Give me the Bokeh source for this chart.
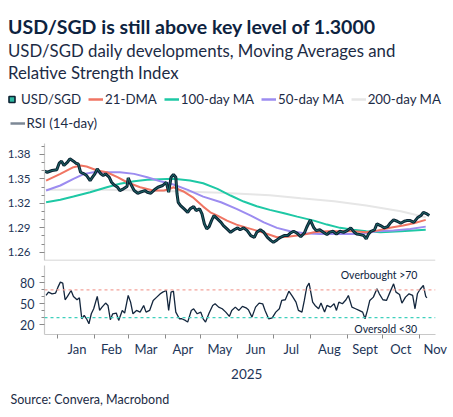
import pandas as pd
from bokeh.plotting import figure
from bokeh.layouts import column
from bokeh.models import Range1d, FixedTicker, Label, Legend, LegendItem, Span
from bokeh.embed import file_html
from bokeh.resources import INLINE

# ---------------- data ----------------
price_dates = [
    "2024-12-20", "2024-12-23", "2024-12-27", "2024-12-31",
    "2025-01-02", "2025-01-04", "2025-01-06", "2025-01-09", "2025-01-11", "2025-01-14", "2025-01-16",
    "2025-01-18", "2025-01-20", "2025-01-23", "2025-01-25", "2025-01-28", "2025-01-30",
    "2025-02-01", "2025-02-03", "2025-02-06", "2025-02-08", "2025-02-10", "2025-02-13", "2025-02-15",
    "2025-02-17", "2025-02-20", "2025-02-22", "2025-02-25", "2025-02-28",
    "2025-03-01", "2025-03-03", "2025-03-06", "2025-03-09", "2025-03-11", "2025-03-15", "2025-03-17",
    "2025-03-20", "2025-03-23", "2025-03-26", "2025-03-30",
    "2025-04-02", "2025-04-04", "2025-04-06", "2025-04-08", "2025-04-10", "2025-04-11", "2025-04-12",
    "2025-04-14", "2025-04-17", "2025-04-20", "2025-04-22", "2025-04-25", "2025-04-27", "2025-04-30",
    "2025-05-02", "2025-05-04", "2025-05-06", "2025-05-08", "2025-05-10", "2025-05-12", "2025-05-15",
    "2025-05-18", "2025-05-20", "2025-05-23", "2025-05-26", "2025-05-29",
    "2025-06-01", "2025-06-03", "2025-06-06", "2025-06-09", "2025-06-12", "2025-06-15", "2025-06-17",
    "2025-06-20", "2025-06-23", "2025-06-26", "2025-06-29",
    "2025-07-01", "2025-07-04", "2025-07-07", "2025-07-10", "2025-07-13", "2025-07-15", "2025-07-18",
    "2025-07-21", "2025-07-24", "2025-07-27", "2025-07-29",
    "2025-08-01", "2025-08-04", "2025-08-06", "2025-08-09", "2025-08-12", "2025-08-15", "2025-08-17",
    "2025-08-20", "2025-08-23", "2025-08-26", "2025-08-29",
    "2025-09-01", "2025-09-04", "2025-09-07", "2025-09-09", "2025-09-12", "2025-09-15", "2025-09-17",
    "2025-09-19", "2025-09-21", "2025-09-24", "2025-09-26", "2025-09-29",
    "2025-10-02", "2025-10-05", "2025-10-07", "2025-10-10", "2025-10-13", "2025-10-16", "2025-10-19",
    "2025-10-21", "2025-10-24", "2025-10-27", "2025-10-30",
    "2025-11-02", "2025-11-04", "2025-11-07", "2025-11-09",
]
usdsgd = [
    1.3600, 1.3582, 1.3603, 1.3612,
    1.3693, 1.3718, 1.3665, 1.3705, 1.3747, 1.3718, 1.3693,
    1.3685, 1.3582, 1.3562, 1.3542, 1.3480, 1.3521,
    1.3562, 1.3624, 1.3562, 1.3542, 1.3562, 1.3521, 1.3459,
    1.3427, 1.3398, 1.3357, 1.3378, 1.3406,
    1.3513, 1.3440, 1.3357, 1.3324, 1.3336, 1.3357, 1.3336,
    1.3324, 1.3366, 1.3398, 1.3419,
    1.3459, 1.3336, 1.3521, 1.3554, 1.3521, 1.3317, 1.3213,
    1.3173, 1.3132, 1.3090, 1.3132, 1.3160, 1.3111, 1.3132,
    1.3070, 1.2948, 1.2886, 1.2914, 1.2988, 1.3050, 1.3009,
    1.2967, 1.2927, 1.2886, 1.2844, 1.2875,
    1.2899, 1.2875, 1.2899, 1.2865, 1.2804, 1.2783, 1.2844,
    1.2875, 1.2844, 1.2783, 1.2742,
    1.2721, 1.2751, 1.2783, 1.2804, 1.2804, 1.2832, 1.2857,
    1.2832, 1.2790, 1.2835, 1.2906,
    1.2995, 1.2899, 1.2865, 1.2875, 1.2844, 1.2816, 1.2844,
    1.2857, 1.2824, 1.2857, 1.2844,
    1.2865, 1.2899, 1.2844, 1.2824, 1.2816, 1.2804, 1.2763,
    1.2824, 1.2857, 1.2875, 1.2948, 1.2927,
    1.2899, 1.2914, 1.2955, 1.2997, 1.2980, 1.2955, 1.2980,
    1.2988, 1.2988, 1.2967, 1.3022,
    1.3050, 1.3090, 1.3070, 1.3050,
]

dma21_dates = [
    "2024-12-22", "2025-01-03", "2025-01-14", "2025-01-20", "2025-01-25", "2025-02-03", "2025-02-11",
    "2025-02-20", "2025-02-28", "2025-03-11", "2025-03-22", "2025-03-31", "2025-04-05", "2025-04-08",
    "2025-04-16", "2025-04-25", "2025-05-03", "2025-05-09", "2025-05-15", "2025-05-23", "2025-05-31",
    "2025-06-09", "2025-06-17", "2025-06-26", "2025-07-04", "2025-07-13", "2025-07-21", "2025-07-29",
    "2025-08-04", "2025-08-15", "2025-08-26", "2025-09-06", "2025-09-17", "2025-09-26", "2025-10-07",
    "2025-10-18", "2025-10-27", "2025-11-06",
]
dma21 = [
    1.3480, 1.3562, 1.3644, 1.3665, 1.3652, 1.3603, 1.3582,
    1.3521, 1.3459, 1.3398, 1.3357, 1.3357, 1.3378, 1.3398,
    1.3349, 1.3267, 1.3160, 1.3090, 1.3050, 1.2988, 1.2939,
    1.2899, 1.2865, 1.2824, 1.2783, 1.2791, 1.2804, 1.2824,
    1.2844, 1.2857, 1.2857, 1.2857, 1.2844, 1.2865, 1.2899,
    1.2927, 1.2955, 1.2997,
]

ma50_dates = [
    "2024-12-22", "2025-01-03", "2025-01-14", "2025-01-23", "2025-01-31", "2025-02-11", "2025-02-22",
    "2025-03-06", "2025-03-17", "2025-03-28", "2025-04-08", "2025-04-20", "2025-05-03", "2025-05-18",
    "2025-05-31", "2025-06-12", "2025-06-23", "2025-07-04", "2025-07-15", "2025-07-27", "2025-08-09",
    "2025-08-26", "2025-09-12", "2025-09-26", "2025-10-10", "2025-10-24", "2025-11-06",
]
ma50 = [
    1.3357, 1.3419, 1.3501, 1.3562, 1.3582, 1.3582, 1.3582,
    1.3562, 1.3521, 1.3472, 1.3431, 1.3366, 1.3283, 1.3213,
    1.3132, 1.3050, 1.2967, 1.2899, 1.2857, 1.2832, 1.2824,
    1.2824, 1.2824, 1.2857, 1.2865, 1.2886, 1.2914,
]

ma100_dates = [
    "2024-12-22", "2025-01-03", "2025-01-14", "2025-01-28", "2025-02-11", "2025-02-22", "2025-03-06",
    "2025-03-17", "2025-03-28", "2025-04-08", "2025-04-22", "2025-05-03", "2025-05-15", "2025-05-26",
    "2025-06-06", "2025-06-17", "2025-06-28", "2025-07-10", "2025-07-21", "2025-08-04", "2025-08-15",
    "2025-08-26", "2025-09-06", "2025-09-17", "2025-09-29", "2025-10-16", "2025-11-06",
]
ma100 = [
    1.3213, 1.3243, 1.3283, 1.3336, 1.3398, 1.3440, 1.3472,
    1.3489, 1.3496, 1.3501, 1.3480, 1.3447, 1.3378, 1.3296,
    1.3222, 1.3164, 1.3120, 1.3078, 1.3037, 1.2988, 1.2939,
    1.2899, 1.2875, 1.2857, 1.2844, 1.2857, 1.2875,
]

ma200_dates = [
    "2024-12-22", "2025-01-14", "2025-02-11", "2025-03-11", "2025-04-08", "2025-05-18",
    "2025-06-28", "2025-07-24", "2025-08-21", "2025-09-17", "2025-10-16", "2025-11-06",
]
ma200 = [
    1.3366, 1.3366, 1.3366, 1.3357, 1.3350, 1.3330,
    1.3300, 1.3262, 1.3226, 1.3173, 1.3103, 1.3030,
]

rsi_dates = [
    "2024-12-22", "2024-12-24", "2024-12-27", "2024-12-30",
    "2025-01-01", "2025-01-03", "2025-01-05", "2025-01-07", "2025-01-09", "2025-01-12", "2025-01-14",
    "2025-01-17", "2025-01-19", "2025-01-21", "2025-01-23", "2025-01-25", "2025-01-27", "2025-01-29",
    "2025-01-31",
    "2025-02-03", "2025-02-05", "2025-02-07", "2025-02-10", "2025-02-12", "2025-02-14", "2025-02-16",
    "2025-02-19", "2025-02-21", "2025-02-24", "2025-02-26",
    "2025-03-01", "2025-03-03", "2025-03-05", "2025-03-08", "2025-03-11", "2025-03-14", "2025-03-16",
    "2025-03-19", "2025-03-22", "2025-03-25", "2025-03-28", "2025-03-30",
    "2025-04-02", "2025-04-04", "2025-04-06", "2025-04-08", "2025-04-10", "2025-04-13", "2025-04-15",
    "2025-04-18", "2025-04-20", "2025-04-23", "2025-04-25", "2025-04-28",
    "2025-05-01", "2025-05-03", "2025-05-05", "2025-05-08", "2025-05-11", "2025-05-13", "2025-05-16",
    "2025-05-19", "2025-05-22", "2025-05-25", "2025-05-27", "2025-05-30",
    "2025-06-02", "2025-06-05", "2025-06-08", "2025-06-10", "2025-06-13", "2025-06-16", "2025-06-19",
    "2025-06-22", "2025-06-24", "2025-06-27", "2025-06-30",
    "2025-07-03", "2025-07-06", "2025-07-08", "2025-07-11", "2025-07-14", "2025-07-17", "2025-07-20",
    "2025-07-22", "2025-07-25", "2025-07-27", "2025-07-29", "2025-07-31",
    "2025-08-03", "2025-08-05", "2025-08-08", "2025-08-10", "2025-08-13", "2025-08-15", "2025-08-18",
    "2025-08-21", "2025-08-23", "2025-08-25", "2025-08-28", "2025-08-31",
    "2025-09-02", "2025-09-05", "2025-09-08", "2025-09-11", "2025-09-14", "2025-09-16", "2025-09-18",
    "2025-09-20", "2025-09-23", "2025-09-26", "2025-09-28",
    "2025-10-01", "2025-10-04", "2025-10-07", "2025-10-10", "2025-10-12", "2025-10-15", "2025-10-17",
    "2025-10-20", "2025-10-23", "2025-10-26", "2025-10-28", "2025-10-30",
    "2025-11-01", "2025-11-04", "2025-11-06", "2025-11-07",
]
rsi14 = [
    62.0, 66.8, 64.4, 65.4,
    74.0, 81.2, 79.8, 55.8, 60.6, 69.2, 60.6,
    55.8, 58.6, 28.4, 33.2, 28.4, 21.2, 35.6,
    42.8,
    60.6, 40.4, 45.2, 51.0, 47.6, 27.0, 35.6,
    36.6, 26.0, 40.4, 36.6,
    62.0, 52.4, 35.6, 40.4, 38.0, 47.6, 38.0,
    40.4, 54.8, 59.6, 64.4, 66.8,
    69.2, 40.4, 66.8, 68.2, 38.0, 28.4, 28.4,
    26.0, 23.6, 40.4, 42.8, 35.6,
    38.0, 28.4, 23.6, 36.6, 47.6, 50.0, 45.2,
    42.8, 38.0, 31.8, 40.4, 45.2,
    40.4, 46.2, 44.2, 41.4, 30.8, 45.2, 51.0,
    50.0, 40.4, 28.4, 29.8,
    38.0, 42.8, 54.8, 55.8, 68.2, 60.6, 52.4,
    40.4, 38.0, 54.8, 74.0, 79.8,
    52.4, 47.6, 42.8, 51.0, 38.0, 47.6, 45.2,
    50.0, 40.4, 52.4, 50.0, 55.8,
    62.0, 45.2, 42.8, 40.4, 38.0, 28.4, 40.4,
    54.8, 59.6, 71.6, 64.4,
    55.8, 54.8, 66.8, 78.8, 66.8, 63.4, 51.0,
    59.6, 64.4, 62.0, 42.8, 64.4,
    70.2, 76.4, 60.6, 58.6,
]

rsi_overbought = 70
rsi_oversold = 30

month_starts = ["2025-01-01", "2025-02-01", "2025-03-01", "2025-04-01", "2025-05-01", "2025-06-01",
                "2025-07-01", "2025-08-01", "2025-09-01", "2025-10-01", "2025-11-01", "2025-12-01"]
month_labels = ["Jan", "Feb", "Mar", "Apr", "May", "Jun", "Jul", "Aug", "Sept", "Oct", "Nov"]
year_label = "2025"

y_ticks_price = [1.26, 1.29, 1.32, 1.35, 1.38]
y_minor_price = [1.27, 1.28, 1.30, 1.31, 1.33, 1.34, 1.36, 1.37, 1.39]
y_ticks_rsi = [20, 50, 80]
y_minor_rsi = [30, 40, 60, 70, 90]

# ---------------- helpers ----------------
EPOCH = pd.Timestamp("2025-01-01")
NAN = float("nan")


def days(dates):
    return [float(v) for v in (pd.to_datetime(pd.Series(dates)) - EPOCH) / pd.Timedelta(days=1)]


FONT = "Lato"
TITLE_C = "#0d2340"
TEXT_C = "#1c2b45"
TICK_C = "#1d3557"
AXIS_C = "#c8c8c8"
TICKLINE_C = "#8a8a8a"
PRICE_C = "#0c2233"
PRICE_FILL = "#2fb9a2"
C21, C50, C100, C200, CRSI_KEY = "#f07563", "#9c8cf0", "#1ec8a5", "#e6e6e6", "#7d8896"

W = 450
LEFT, RIGHT = 44, 15          # frame borders of the two chart panels
x_start = days(["2024-12-20 16:00"])[0]
x_end = days(["2025-11-14 05:00"])[0]
xr = Range1d(x_start, x_end)


def style_y(ax, ticks, minor, standoff, size):
    ax.ticker = FixedTicker(ticks=ticks, minor_ticks=minor)
    ax.axis_line_color = AXIS_C
    ax.axis_line_width = 1.2
    ax.major_tick_line_color = TICKLINE_C
    ax.minor_tick_line_color = TICKLINE_C
    ax.major_tick_out = 5
    ax.major_tick_in = 0
    ax.minor_tick_out = 3
    ax.minor_tick_in = 0
    ax.major_label_standoff = standoff
    ax.major_label_text_font = FONT
    ax.major_label_text_font_size = size
    ax.major_label_text_color = TICK_C


def blank(height):
    f = figure(width=W, height=height, x_range=Range1d(0, W), y_range=Range1d(0, height),
               x_axis_location=None, y_axis_location=None, title_location=None,
               output_backend="svg", toolbar_location=None, min_border=0, frame_align=False)
    f.grid.visible = False
    f.outline_line_color = None
    return f


def text(fig, x, y_from_bottom, s, size, color, bold=False, align="left"):
    fig.add_layout(Label(x=x, y=y_from_bottom, x_units="screen", y_units="screen", text=s,
                         text_font=FONT, text_font_size=f"{size}px", text_color=color,
                         text_font_style="bold" if bold else "normal",
                         text_align=align, text_baseline="alphabetic"))


# ---------------- header: titles + legend ----------------
H_HDR = 143
hdr = blank(H_HDR)
text(hdr, 7.5, H_HDR - 25.8, "USD/SGD is still above key level of 1.3000", 19.5, TITLE_C, bold=True)
text(hdr, 7.5, H_HDR - 49.5, "USD/SGD daily developments, Moving Averages and", 16.8, TEXT_C)
text(hdr, 7.5, H_HDR - 72.2, "Relative Strength Index", 16.8, TEXT_C)

# legend keys (no visible points: NaN data)
k_price = hdr.scatter(x=[NAN], y=[NAN], marker="square", size=7, line_color=PRICE_C,
                      line_width=1.6, fill_color=PRICE_FILL)
k21 = hdr.line(x=[NAN, NAN], y=[NAN, NAN], line_color=C21, line_width=2.5)
k100 = hdr.line(x=[NAN, NAN], y=[NAN, NAN], line_color=C100, line_width=2.5)
k50 = hdr.line(x=[NAN, NAN], y=[NAN, NAN], line_color=C50, line_width=2.5)
k200 = hdr.line(x=[NAN, NAN], y=[NAN, NAN], line_color=C200, line_width=2.5)
krsi = hdr.line(x=[NAN, NAN], y=[NAN, NAN], line_color=CRSI_KEY, line_width=2.5)

leg_kw = dict(orientation="horizontal", label_text_font=FONT, label_text_font_size="13.3px",
              label_text_color=TEXT_C, glyph_width=15, glyph_height=16, label_height=16,
              label_width=10, label_standoff=2, spacing=7, padding=0, margin=0,
              border_line_color=None, background_fill_alpha=0)
hdr.add_layout(Legend(items=[LegendItem(label="USD/SGD", renderers=[k_price]),
                             LegendItem(label="21-DMA", renderers=[k21]),
                             LegendItem(label="100-day MA", renderers=[k100]),
                             LegendItem(label="50-day MA", renderers=[k50]),
                             LegendItem(label="200-day MA", renderers=[k200])],
                      location=(4, 35.7), **leg_kw))
hdr.add_layout(Legend(items=[LegendItem(label="RSI (14-day)", renderers=[krsi])],
                      location=(9.5, 12.3), **leg_kw))

# ---------------- top panel: price + moving averages ----------------
y1 = Range1d(1.2498, 1.3935)
p1 = figure(width=W, height=119, x_range=xr, y_range=y1,
            x_axis_location=None, output_backend="svg", toolbar_location=None,
            min_border_left=LEFT, min_border_right=RIGHT, min_border_top=0, min_border_bottom=2)
p1.grid.visible = False
p1.outline_line_color = None
style_y(p1.yaxis[0], y_ticks_price, y_minor_price, 9, "11.5px")

p1.line(days(ma200_dates), ma200, line_color=C200, line_width=2)
p1.line(days(ma100_dates), ma100, line_color=C100, line_width=2)
p1.line(days(ma50_dates), ma50, line_color=C50, line_width=2)
p1.line(days(dma21_dates), dma21, line_color=C21, line_width=2)
px = days(price_dates)
p1.line(px, usdsgd, line_color=PRICE_C, line_width=3.0)
p1.line(px, usdsgd, line_color=PRICE_FILL, line_width=0.8, alpha=0.6)
p1.add_layout(Span(location=y1.start, dimension="width", line_color=AXIS_C, line_width=1.5))

# ---------------- bottom panel: RSI ----------------
p2 = figure(width=W, height=102, x_range=xr, y_range=Range1d(5.7, 105.2),
            output_backend="svg", toolbar_location=None,
            min_border_left=LEFT, min_border_right=RIGHT, min_border_top=3, min_border_bottom=30)
p2.grid.visible = False
p2.outline_line_color = None
style_y(p2.yaxis[0], y_ticks_rsi, y_minor_rsi, 5, "12.5px")

p2.add_layout(Span(location=rsi_overbought, dimension="width", line_color="#f3a49c",
                   line_dash="3 3", line_width=1.3))
p2.add_layout(Span(location=rsi_oversold, dimension="width", line_color="#3fd0bd",
                   line_dash="3 3", line_width=1.3))
p2.line(days(rsi_dates), rsi14, line_color="#13263d", line_width=1.3)

ms = days(month_starts)
mids = [int(round(min((a + b) / 2, x_end - 0.3))) for a, b in zip(ms[:-1], ms[1:])]
xa = p2.xaxis[0]
xa.ticker = FixedTicker(ticks=mids, minor_ticks=ms[:-1])
xa.major_label_overrides = {m: lab for m, lab in zip(mids, month_labels)}
xa.axis_line_color = AXIS_C
xa.axis_line_width = 1.2
xa.major_tick_line_color = None
xa.major_tick_out = 4
xa.major_tick_in = 0
xa.minor_tick_line_color = TICKLINE_C
xa.minor_tick_out = 4
xa.minor_tick_in = 0
xa.major_label_standoff = 2
xa.major_label_text_font = FONT
xa.major_label_text_font_size = "13px"
xa.major_label_text_color = TICK_C

p2.add_layout(Label(x=days(["2025-10-30"])[0], y=91.5, text="Overbought >70", text_align="right",
                    text_baseline="alphabetic", text_font=FONT, text_font_size="10.5px",
                    text_color=TITLE_C))
p2.add_layout(Label(x=days(["2025-11-01"])[0], y=13.5, text="Oversold  <30", text_align="right",
                    text_baseline="alphabetic", text_font=FONT, text_font_size="10.5px",
                    text_color=TITLE_C))

# ---------------- footer: year label + source ----------------
H_FTR = 51
ftr = blank(H_FTR)
frame_w = W - LEFT - RIGHT
year_mid = (0 + x_end) / 2
year_px = LEFT + (year_mid - x_start) / (x_end - x_start) * frame_w
text(ftr, year_px, H_FTR - 9.5, year_label, 13.5, TICK_C, align="center")
text(ftr, 10, H_FTR - 34.5, "Source: Convera, Macrobond", 12.5, TEXT_C)

layout = column(hdr, p1, p2, ftr)
open("out.html", "w").write(file_html(layout, INLINE))
